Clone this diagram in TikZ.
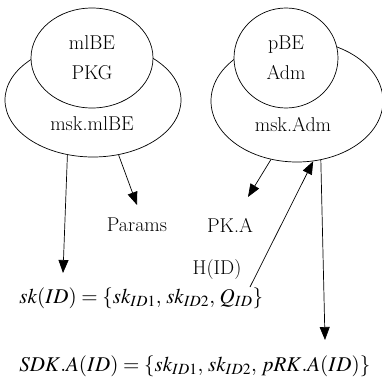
\documentclass[tikz,border=0pt]{standalone}
\usepackage{mathptmx}
\usetikzlibrary{arrows.meta,positioning,shapes.geometric}

\begin{document}
\begin{tikzpicture}[x=1pt,y=-1pt,line width=0.7pt,
    outer/.style={draw,ellipse,minimum width=176pt,minimum height=114pt,inner sep=0pt},
    inner/.style={draw,ellipse,fill=white,align=center,inner sep=0pt,
      font=\fontsize{20}{30}\selectfont},
    lbl/.style={font=\fontsize{20}{24}\selectfont,inner sep=1pt},
    formula/.style={font=\fontsize{21}{25}\selectfont,inner sep=1pt,anchor=west},
    arr/.style={-{Triangle[length=13pt,width=10pt]}}]
    \useasboundingbox (0,0) rectangle (382,383);
    % mlBE side
    \node[outer] (mlbeOuter) at (93,100) {};
    \node[inner,minimum width=122pt,minimum height=100pt] (mlbeInner) at (92,58) {mlBE\\PKG};
    \node[lbl] (mskmlbe) at (92,124) {msk.mlBE};
    % pBE side
    \node[outer,minimum width=172pt,minimum height=122pt] (pbeOuter) at (297,101) {};
    \node[inner,minimum width=104pt,minimum height=100pt] (pbeInner) at (286,58) {pBE\\Adm};
    \node[lbl] (mskadm) at (293,125) {msk.Adm};
    % Outputs
    \node[lbl] (params) at (137,225) {Params};
    \node[lbl] (pka) at (230,225) {PK.A};
    \node[lbl] (hid) at (217,270) {H(ID)};
    \node[formula] (skid) at (18,298) {$sk(ID)=\{sk_{ID1},\,sk_{ID2},\,Q_{ID}\}$};
    \node[formula] (sdk) at (18,366) {$SDK.A(ID)=\{sk_{ID1},\,sk_{ID2},\,pRK.A(ID)\}$};
    % Free ends
    \coordinate (skTip) at (63,273);
    \coordinate (paramsTip) at (137,205);
    \coordinate (pkaTip) at (248,197);
    \coordinate (hidStart) at (250,287);
    \coordinate (sdkTip) at (325,340);
    % Arrows
    \draw[arr] (mlbeOuter.245) -- (skTip);
    \draw[arr] (mlbeOuter.295) -- (paramsTip);
    \draw[arr] (pbeOuter.246) -- (pkaTip);
    \draw[arr] (hidStart) -- (pbeOuter.285);
    \draw[arr] (pbeOuter.292) -- (sdkTip);
\end{tikzpicture}
\end{document}
